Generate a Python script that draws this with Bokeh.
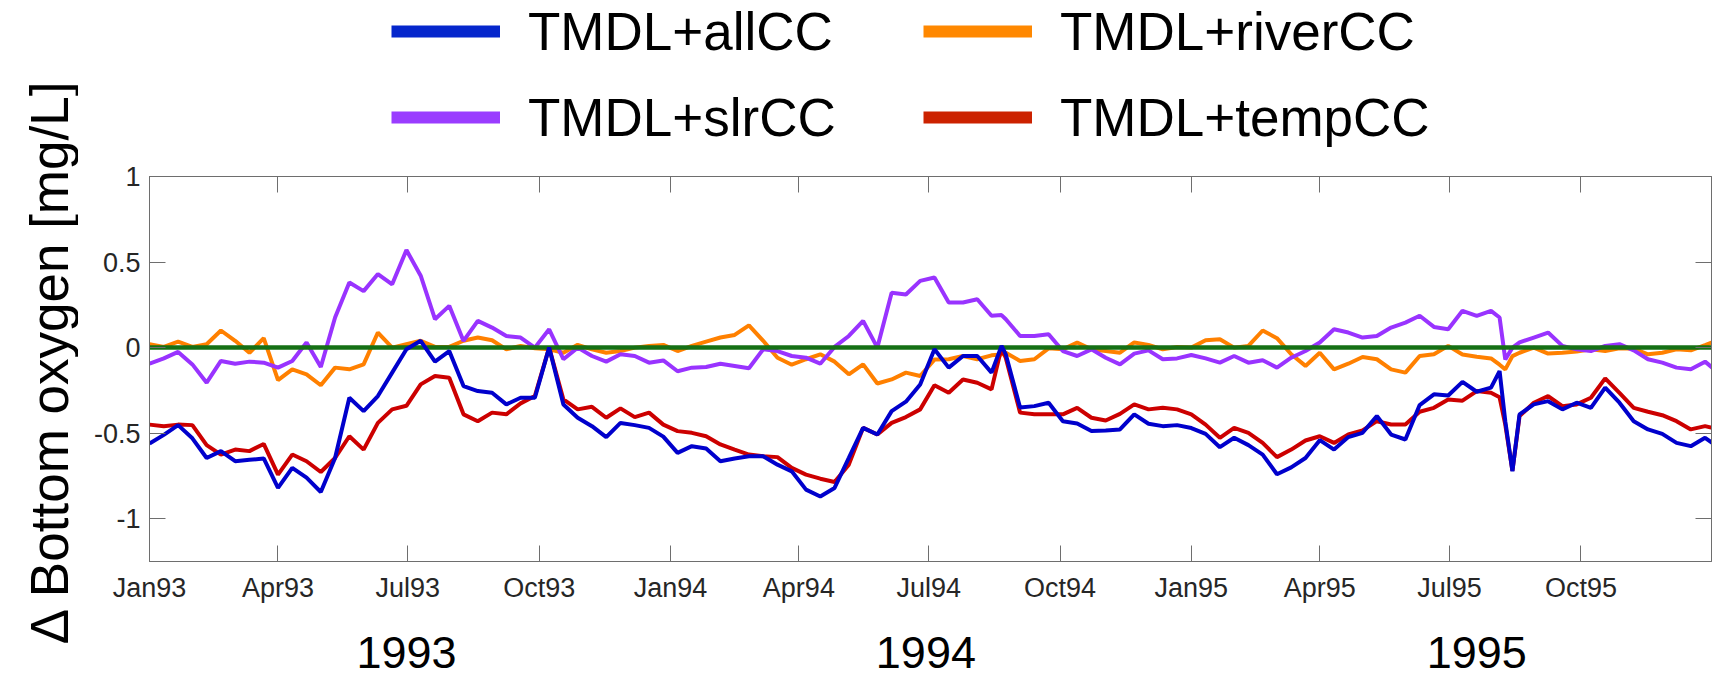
import math
from datetime import datetime
import pandas as pd
from bokeh.plotting import figure
from bokeh.layouts import column, row
from bokeh.models import (Range1d, DatetimeTickFormatter, MonthsTicker, FixedTicker, DatetimeAxis,
                          LinearAxis, Legend, LegendItem, Label, CustomJSTickFormatter)
from bokeh.embed import file_html
from bokeh.resources import INLINE

# ---------------- data (days after 1993-01-01) ----------------
START = "1993-01-01"
days = [0, 10, 20, 30, 40, 50, 60, 70, 80, 90,
        100, 110, 120, 130, 140, 150, 160, 170, 180, 190,
        200, 210, 220, 230, 240, 250, 260, 270, 280, 290,
        300, 310, 320, 330, 340, 350, 360, 370, 380, 390,
        400, 410, 420, 430, 440, 450, 460, 470, 480, 490,
        500, 510, 520, 530, 540, 550, 560, 570, 580, 590,
        597,
        600, 610, 620, 630, 640, 650, 660, 670, 680, 690,
        700, 710, 720, 730, 740, 750, 760, 770, 780, 790,
        800, 810, 820, 830, 840, 850, 860, 870, 880, 890,
        900, 910, 920, 930, 940,
        946, 950, 955,
        960, 970, 980, 990, 1000, 1010, 1020, 1030, 1040, 1050, 1060, 1070, 1080, 1090,
        1095]

all_cc = [-0.560, -0.510, -0.453, -0.530, -0.645, -0.605, -0.664, -0.656, -0.648, -0.820,
          -0.703, -0.760, -0.844, -0.645, -0.293, -0.371, -0.283, -0.146, -0.010, 0.040,
          -0.082, -0.020, -0.225, -0.254, -0.264, -0.332, -0.293, -0.293, 0.000, -0.332,
          -0.410, -0.459, -0.523, -0.440, -0.453, -0.469, -0.520, -0.615, -0.576, -0.590,
          -0.664, -0.648, -0.635, -0.635, -0.684, -0.723, -0.830, -0.870, -0.820, -0.645,
          -0.469, -0.508, -0.371, -0.316, -0.215, -0.010, -0.117, -0.049, -0.049, -0.146,
          0.010,
          -0.040, -0.350, -0.342, -0.322, -0.430, -0.443, -0.488, -0.484, -0.478, -0.390,
          -0.445, -0.459, -0.453, -0.470, -0.504, -0.582, -0.527, -0.570, -0.625, -0.740,
          -0.700, -0.645, -0.541, -0.596, -0.523, -0.498, -0.400, -0.508, -0.537, -0.336,
          -0.273, -0.280, -0.200, -0.258, -0.234,
          -0.137, -0.430, -0.723,
          -0.390, -0.332, -0.313, -0.361, -0.322, -0.352, -0.234, -0.322, -0.430, -0.478, -0.504, -0.557, -0.576, -0.527,
          -0.557]

river_cc = [0.020, 0.004, 0.035, 0.004, 0.020, 0.100, 0.040, -0.030, 0.055, -0.190,
            -0.127, -0.156, -0.220, -0.117, -0.127, -0.098, 0.088, 0.000, 0.020, 0.040,
            0.004, 0.004, 0.040, 0.059, 0.043, -0.010, 0.010, -0.004, -0.010, -0.030,
            0.016, -0.010, -0.030, -0.020, 0.000, 0.010, 0.016, -0.020, 0.010, 0.035,
            0.059, 0.074, 0.130, 0.040, -0.059, -0.100, -0.068, -0.039, -0.082, -0.156,
            -0.098, -0.210, -0.186, -0.146, -0.166, -0.070, -0.068, -0.049, -0.068, -0.045,
            -0.040,
            -0.030, -0.078, -0.068, -0.004, -0.010, 0.030, -0.010, -0.020, -0.030, 0.030,
            0.016, -0.010, 0.004, 0.000, 0.043, 0.049, 0.000, 0.010, 0.100, 0.055,
            -0.039, -0.107, -0.030, -0.127, -0.094, -0.055, -0.068, -0.127, -0.146, -0.049,
            -0.039, 0.010, -0.040, -0.053, -0.063,
            -0.100, -0.127, -0.050,
            -0.030, 0.000, -0.035, -0.030, -0.023, -0.010, -0.020, -0.004, -0.006, -0.039, -0.030, -0.010, -0.016, 0.014,
            0.030]

slr_cc = [-0.094, -0.063, -0.025, -0.098, -0.205, -0.078, -0.094, -0.082, -0.088, -0.117,
          -0.078, 0.030, -0.113, 0.176, 0.380, 0.330, 0.430, 0.370, 0.570, 0.420,
          0.166, 0.244, 0.039, 0.156, 0.117, 0.068, 0.059, 0.000, 0.107, -0.068,
          0.000, -0.049, -0.082, -0.039, -0.049, -0.088, -0.075, -0.138, -0.117, -0.113,
          -0.094, -0.107, -0.121, -0.010, -0.020, -0.049, -0.059, -0.094, 0.004, 0.068,
          0.156, 0.000, 0.320, 0.310, 0.390, 0.410, 0.264, 0.264, 0.283, 0.186,
          0.190,
          0.166, 0.068, 0.068, 0.078, -0.020, -0.049, -0.010, -0.059, -0.098, -0.035,
          -0.016, -0.068, -0.063, -0.043, -0.063, -0.088, -0.049, -0.088, -0.074, -0.117,
          -0.059, -0.020, 0.030, 0.107, 0.088, 0.059, 0.068, 0.117, 0.146, 0.186,
          0.121, 0.107, 0.215, 0.186, 0.215,
          0.176, -0.070, 0.000,
          0.030, 0.059, 0.088, 0.010, -0.010, -0.020, 0.010, 0.020, -0.016, -0.068, -0.088, -0.117, -0.127, -0.082,
          -0.117]

temp_cc = [-0.450, -0.460, -0.450, -0.453, -0.570, -0.625, -0.596, -0.605, -0.563, -0.742,
           -0.625, -0.664, -0.727, -0.645, -0.518, -0.596, -0.440, -0.361, -0.340, -0.215,
           -0.166, -0.176, -0.390, -0.430, -0.380, -0.390, -0.326, -0.283, 0.000, -0.303,
           -0.361, -0.346, -0.410, -0.355, -0.406, -0.380, -0.450, -0.488, -0.498, -0.518,
           -0.566, -0.596, -0.625, -0.635, -0.640, -0.703, -0.742, -0.766, -0.785, -0.684,
           -0.469, -0.508, -0.440, -0.406, -0.361, -0.220, -0.264, -0.186, -0.205, -0.244,
           0.000,
           -0.060, -0.380, -0.390, -0.390, -0.390, -0.352, -0.410, -0.426, -0.387, -0.332,
           -0.361, -0.352, -0.361, -0.390, -0.450, -0.527, -0.469, -0.498, -0.557, -0.640,
           -0.596, -0.543, -0.518, -0.557, -0.508, -0.484, -0.430, -0.449, -0.449, -0.375,
           -0.352, -0.303, -0.310, -0.254, -0.264,
           -0.290, -0.450, -0.720,
           -0.400, -0.322, -0.283, -0.342, -0.332, -0.293, -0.180, -0.264, -0.352, -0.375, -0.395, -0.430, -0.478, -0.459,
           -0.469]

zero_line = [0.0]
series_names = ["TMDL+allCC", "TMDL+riverCC", "TMDL+slrCC", "TMDL+tempCC"]
y_ticks = [-1, -0.5, 0, 0.5, 1]
y_tick_labels = ["-1", "-0.5", "0", "0.5", "1"]
year_labels = ["1993", "1994", "1995"]
year_label_dates = ["1993-06-30", "1994-06-29", "1995-07-20"]
y_title = "\u0394 Bottom oxygen [mg/L]"

# ---------------- styling / layout sizes ----------------
FONT = "Liberation Sans"
C_ALL, C_RIVER, C_SLR, C_TEMP = "#0000cc", "#ff8000", "#9933ff", "#cc0000"
LEG_COLORS = ["#0526cc", "#ff8800", "#9a3cff", "#cc2200"]
AX = "#6e6e6e"
W_LAB = 78            # strip holding the rotated y title
W_RIGHT = 1717 - W_LAB
H_LEG = 150           # strip holding the legend
H_MAIN = 678 - H_LEG
FRAME_LEFT = 149      # absolute x of the plot frame

dates = pd.Timestamp(START) + pd.to_timedelta(days, unit="D")

# ---------------- y title strip ----------------
yf = figure(width=W_LAB, height=678, output_backend="svg", toolbar_location=None,
            x_range=Range1d(0, 1), y_range=Range1d(0, 1),
            x_axis_location=None, y_axis_location=None,
            min_border_left=0, min_border_right=0, min_border_top=0, min_border_bottom=0)
yf.grid.visible = False
yf.outline_line_color = None
yf.add_layout(Label(x=49, y=678 - 361, x_units="screen", y_units="screen", text=y_title,
                    angle=math.pi / 2, text_align="center", text_baseline="alphabetic",
                    text_font=FONT, text_font_size="53px", text_color="black"))

# ---------------- legend strip ----------------
lf = figure(width=W_RIGHT, height=H_LEG, output_backend="svg", toolbar_location=None,
            x_range=Range1d(0, 1), y_range=Range1d(0, 1),
            x_axis_location=None, y_axis_location=None,
            min_border_left=FRAME_LEFT - W_LAB, min_border_right=6,
            min_border_top=0, min_border_bottom=0)
lf.grid.visible = False
lf.outline_line_color = None

ITEM_H = 80
row_centers = [31, 31, 117, 117]
col_lefts = [391, 923, 391, 923]
for name, col, ser, cy, cx in zip(series_names, LEG_COLORS, [all_cc, river_cc, slr_cc, temp_cc],
                                  row_centers, col_lefts):
    # legend swatch renderer: the series itself, lying outside this strip's view
    r = lf.line(dates, ser, line_color=col, line_width=12)
    top_y = cy - ITEM_H / 2
    leg = Legend(items=[LegendItem(label=name, renderers=[r])],
                 location=(cx - FRAME_LEFT, H_LEG - top_y - ITEM_H),
                 orientation="horizontal", label_text_font=FONT, label_text_font_size="53px",
                 label_text_color="black", glyph_width=109, glyph_height=ITEM_H,
                 label_height=ITEM_H, label_standoff=28,
                 padding=0, margin=0, spacing=0, border_line_color=None, background_fill_alpha=0)
    lf.add_layout(leg)

# ---------------- main figure ----------------
p = figure(width=W_RIGHT, height=H_MAIN, x_axis_type="datetime", output_backend="svg",
           toolbar_location=None,
           x_range=Range1d(datetime(1992, 12, 31, 23), datetime(1995, 12, 31, 12)),
           y_range=Range1d(-1.25, 1),
           min_border_left=FRAME_LEFT - W_LAB, min_border_right=6,
           min_border_top=176 - H_LEG, min_border_bottom=117)
p.xgrid.visible = False
p.ygrid.visible = False
p.outline_line_color = AX

def style_axis(ax):
    ax.axis_line_color = AX
    ax.major_tick_line_color = AX
    ax.major_tick_in = 16
    ax.major_tick_out = 0
    ax.minor_tick_line_color = None
    ax.major_label_text_font = FONT
    ax.major_label_text_font_size = "27px"
    ax.major_label_text_color = "#262626"

xa = p.xaxis[0]
xa.ticker = MonthsTicker(months=[0, 3, 6, 9])
xa.formatter = DatetimeTickFormatter(months="%b%y", days="%b%y", years="%b%y")
style_axis(xa)
xa.major_label_standoff = 11

ya = p.yaxis[0]
ya.ticker = FixedTicker(ticks=y_ticks)
ya.major_label_overrides = {float(t): s for t, s in zip(y_ticks, y_tick_labels)}
style_axis(ya)
ya.major_label_standoff = 9

# mirrored box axes (ticks only)
top = DatetimeAxis(ticker=MonthsTicker(months=[0, 3, 6, 9]),
                   formatter=CustomJSTickFormatter(code="return ''"))
style_axis(top)
top.major_label_text_font_size = "8px"
top.major_label_standoff = 0
p.add_layout(top, "above")
right = LinearAxis(ticker=FixedTicker(ticks=y_ticks),
                   formatter=CustomJSTickFormatter(code="return ''"))
style_axis(right)
right.major_label_text_font_size = "8px"
right.major_label_standoff = 0
p.add_layout(right, "right")

# year labels as a second bottom axis
year_ms = [pd.Timestamp(d).timestamp() * 1000.0 for d in year_label_dates]
yr_axis = LinearAxis(ticker=FixedTicker(ticks=year_ms),
                     major_label_overrides={t: s for t, s in zip(year_ms, year_labels)})
yr_axis.axis_line_color = None
yr_axis.major_tick_line_color = None
yr_axis.minor_tick_line_color = None
yr_axis.major_label_text_font = FONT
yr_axis.major_label_text_font_size = "45px"
yr_axis.major_label_text_color = "black"
yr_axis.major_label_standoff = 25
p.add_layout(yr_axis, "below")

# ---------------- lines ----------------
LW = 4
p.line(dates, river_cc, line_color=C_RIVER, line_width=LW)
p.line(dates, slr_cc, line_color=C_SLR, line_width=LW)
p.hspan(y=zero_line, line_color="#157015", line_width=4.5)
p.line(dates, temp_cc, line_color=C_TEMP, line_width=LW)
p.line(dates, all_cc, line_color=C_ALL, line_width=LW)

layout = row(yf, column(lf, p, spacing=0), spacing=0)
open("out.html", "w").write(file_html(layout, INLINE))
